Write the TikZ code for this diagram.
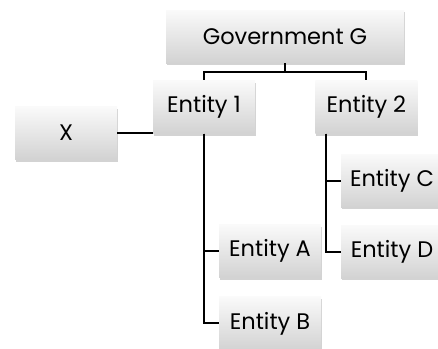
\documentclass[tikz,border=0pt]{standalone}
\usepackage{fontspec}
\setmainfont{Poppins}
\usetikzlibrary{shadows,positioning}
\tikzstyle{block} = [rectangle, top color=gray!4, bottom color=gray!35, minimum width=102pt, minimum height=53pt, inner sep=2pt, font=\fontsize{22.5}{26}\selectfont, drop shadow={shadow xshift=1pt, shadow yshift=-2pt, opacity=0.35}]
\tikzstyle{blockw} = [block, minimum width=238pt]
\tikzstyle{line} = [draw, line width=2pt]

\begin{document}
\begin{tikzpicture}
    \useasboundingbox (0,0) rectangle (438pt,-348pt);
    \node [blockw] (gov) at (285pt,-36.5pt) {Government G};
    \node [block] (ent1) at (204pt,-107pt) {Entity 1};
    \node [block, right=60pt of ent1] (ent2) {Entity 2};
    \node [block] (x) at (66pt,-133pt) {X};
    \node [block] (entc) at (392pt,-180.5pt) {Entity C};
    \node [block, below=18pt of entc] (entd) {Entity D};
    \node [block] (enta) at (270pt,-251pt) {Entity A};
    \node [block, below=19pt of enta] (entb) {Entity B};
    \coordinate[below=9pt of gov] (govc);
    \coordinate[right=11pt of ent2.south west] (ent2c);
    \path [line] (gov.south) -- (govc) -| (ent1.north);
    \path [line] (govc) -| (ent2.north);
    \path [line] (x.east) -- (x.east -| ent1.west);
    \path [line] (ent1.south) |- (enta.west);
    \path [line] (ent1.south) |- (entb.west);
    \path [line] (ent2c) |- (entc.west);
    \path [line] (ent2c) |- (entd.west);
\end{tikzpicture}
\end{document}
